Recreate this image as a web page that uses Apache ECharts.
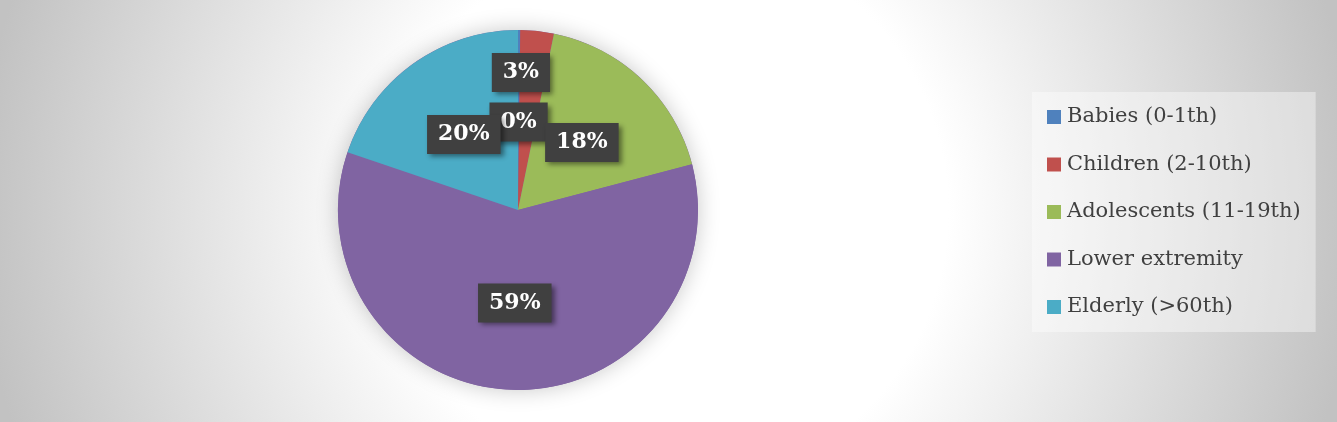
<!DOCTYPE html>
<html>
<head>
<meta charset="utf-8">
<script src="https://cdn.jsdelivr.net/npm/echarts@6/dist/echarts.min.js"></script>
<style>
	html, body { margin: 0; padding: 0; }
	#main {
		width: 1337px;
		height: 422px;
		background: radial-gradient(circle at 668px 211px, #ffffff 280px, #c2c2c2 690px);
	}
</style>
</head>
<body>
<div id="main"></div>
<script>
// age groups and their share (%)
var groups = [ 'Babies (0-1th)', 'Children (2-10th)', 'Adolescents (11-19th)', 'Lower extremity', 'Elderly (>60th)' ];
var shares = [ 0.2, 3.0, 17.7, 59.3, 19.8 ];
var colors = [ '#4f81bd', '#c0504d', '#9bbb59', '#8064a2', '#4bacc6' ];
// label nudges (px) so the two tiny slices keep readable labels
var labelOffsets = [ [ 0, 5 ], [ -7, -45 ], null, null, null ];

var pieData = [];
for (var i = 0; i < groups.length; i++) {
	var item = {
		name : groups[i],
		value : shares[i],
		label : { show : true }
	};
	if (labelOffsets[i]) {
		item.label.offset = labelOffsets[i];
	}
	pieData.push(item);
}

var chart = echarts.init(document.getElementById('main'), null, { renderer : 'canvas' });

var option = {
	color : colors,
	animation : false,
	legend : {
		orient : 'vertical',
		left : 1032,
		top : 92,
		padding : [ 14, 15, 14, 15 ],
		backgroundColor : 'rgba(255,255,255,0.4)',
		itemWidth : 14,
		itemHeight : 14,
		itemGap : 25.5,
		icon : 'rect',
		data : groups,
		textStyle : {
			fontFamily : 'DejaVu Serif',
			fontSize : 21,
			lineHeight : 22,
			color : '#404040',
			padding : [ 0, 0, 0, 1 ]
		}
	},
	series : [
		{
			// plain disc behind the slices, only to cast the soft shadow
			type : 'pie',
			silent : true,
			z : 1,
			center : [ 518, 210 ],
			radius : 180,
			label : { show : false },
			labelLine : { show : false },
			itemStyle : {
				color : '#8064a2',
				shadowBlur : 22,
				shadowColor : 'rgba(0,0,0,0.22)'
			},
			data : [ { name : '', value : 1 } ]
		},
		{
			name : 'Age',
			type : 'pie',
			z : 2,
			center : [ 518, 210 ],
			radius : 180,
			startAngle : 90,
			percentPrecision : 0,
			minShowLabelAngle : 0,
			avoidLabelOverlap : false,
			labelLayout : { hideOverlap : false },
			itemStyle : {
				borderWidth : 0
			},
			label : {
				show : true,
				position : 'inside',
				formatter : '{d}%',
				fontFamily : 'DejaVu Serif',
				fontWeight : 'bold',
				fontSize : 22,
				lineHeight : 21,
				color : '#ffffff',
				backgroundColor : '#404040',
				padding : [ 9, 11, 9, 11 ],
				shadowColor : 'rgba(0,0,0,0.45)',
				shadowBlur : 5,
				shadowOffsetX : 3,
				shadowOffsetY : 3
			},
			labelLine : { show : false },
			emphasis : { disabled : true },
			data : pieData
		}
	]
};
chart.setOption(option);
</script>
</body>
</html>
